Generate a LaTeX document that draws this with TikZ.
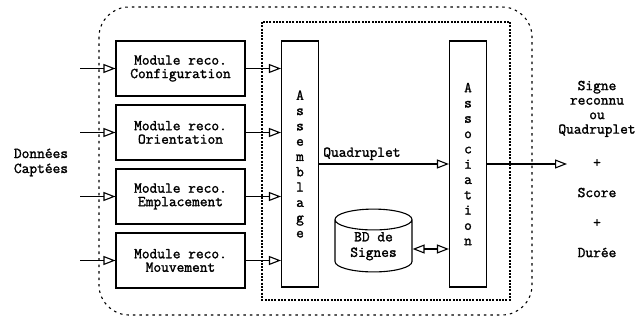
\documentclass[tikz,border=0pt]{standalone}
\usepackage{fontspec}
\newfontfamily\diagFont[FakeBold=1.6]{Latin Modern Mono}
\usetikzlibrary{arrows.meta,shapes.geometric,positioning}

\tikzset{
  txtFont/.style={font=\diagFont\fontsize{15}{13.5}\selectfont},
  moduleBox/.style={draw, line width=1.1pt, txtFont, align=center,
    minimum width=129pt, minimum height=55pt, inner sep=0pt},
  barBox/.style={draw, line width=1.1pt, align=center, inner sep=0pt,
    font=\diagFont\fontsize{15}{15.3}\selectfont,
    minimum width=37pt, minimum height=246pt},
  openArrow/.style={line width=1.1pt, -{Triangle[open,length=12pt,width=9pt]}},
  bothArrow/.style={line width=1.1pt, {Triangle[open,length=12pt,width=9pt]}-{Triangle[open,length=12pt,width=9pt]}}
}

\begin{document}
\begin{tikzpicture}[x=1pt, y=-1pt]
    \useasboundingbox (0,0) rectangle (639,320);
    % dotted frames
    \draw[line width=1.1pt, dash pattern=on 2.5pt off 4pt, rounded corners=30pt] (99,7) rectangle (532,315);
    \draw[line width=1.1pt, dash pattern=on 2pt off 1.3pt] (262,22) rectangle (510,300);

    % recognition modules
    \node[moduleBox] (modConf) at (180.5,68.5) {Module reco.\\Configuration};
    \node[moduleBox] (modOrient) at (180.5,132.5) {Module reco.\\Orientation};
    \node[moduleBox] (modPlace) at (180.5,196.5) {Module reco.\\Emplacement};
    \node[moduleBox] (modMove) at (180.5,260.5) {Module reco.\\Mouvement};

    \node[align=center, font=\diagFont\fontsize{15}{15}\selectfont] (inputLbl) at (41,162.5) {Données\\Captées};

    \node[barBox] (assemb) at (300,164) {A\\s\\s\\e\\m\\b\\l\\a\\g\\e};
    \node[barBox] (assoc) at (468,164) {A\\s\\s\\o\\c\\i\\a\\t\\i\\o\\n};

    \node[draw, line width=1.1pt, shape=cylinder, shape border rotate=90, aspect=0.45,
      minimum width=77pt, minimum height=62pt, inner sep=0pt,
      font=\diagFont\fontsize{15}{15.5}\selectfont] (dbSignes) at (373.5,246)
      {\raisebox{-7pt}{\begin{tabular}{@{}c@{}}BD de\\Signes\end{tabular}}};

    \node[align=center, font=\diagFont\fontsize{15}{14.5}\selectfont] (outLbl) at (597,169)
      {Signe\\reconnu\\ou\\Quadruplet\\[19pt]+\\[15.5pt]Score\\[15.5pt]+\\[15.5pt]Durée};

    % connectors
    \foreach \m/\c in {modConf/inA, modOrient/inB, modPlace/inC, modMove/inD} {
        \coordinate (\c) at (80,0 |- \m.west);
        \draw[openArrow] (\c) -- (\m.west);
        \draw[openArrow] (\m.east) -- (\m.east -| assemb.west);
    }
    \draw[openArrow] (assemb) -- node[above, pos=0.33, txtFont] (quadLbl) {Quadruplet} (assoc);
    \coordinate (outEnd) at (567,164);
    \draw[openArrow] (assoc.east) -- (outEnd);
    \draw[bothArrow] ([yshift=-3pt]dbSignes.east) -- ([yshift=-3pt]dbSignes.east -| assoc.west);
\end{tikzpicture}
\end{document}
